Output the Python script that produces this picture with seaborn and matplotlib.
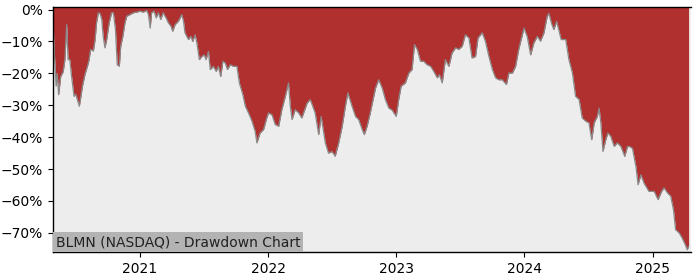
import matplotlib
matplotlib.use("Agg")
import matplotlib.pyplot as plt
import matplotlib.dates as mdates
from matplotlib.ticker import FuncFormatter
import pandas as pd
import seaborn as sns

dates = [
    "2020-04-28", "2020-05-01", "2020-05-04", "2020-05-07", "2020-05-10", "2020-05-14",
    "2020-05-20", "2020-05-27", "2020-06-01", "2020-06-06", "2020-06-10", "2020-06-15",
    "2020-06-20", "2020-06-27", "2020-07-02", "2020-07-12", "2020-07-16", "2020-07-21",
    "2020-07-28", "2020-08-04", "2020-08-09", "2020-08-13", "2020-08-21", "2020-08-26",
    "2020-08-30", "2020-09-04", "2020-09-09", "2020-09-14", "2020-09-18", "2020-09-23",
    "2020-09-28", "2020-10-05", "2020-10-12", "2020-10-17", "2020-10-23", "2020-10-28",
    "2020-11-03", "2020-11-07", "2020-11-13", "2020-11-19", "2020-11-24", "2020-12-03",
    "2020-12-13", "2020-12-23", "2021-01-01", "2021-01-10", "2021-01-20", "2021-01-25",
    "2021-01-30", "2021-02-03", "2021-02-10", "2021-02-16", "2021-02-22", "2021-03-01",
    "2021-03-08", "2021-03-16", "2021-03-23", "2021-03-30", "2021-04-04", "2021-04-11",
    "2021-04-20", "2021-04-30", "2021-05-05", "2021-05-09", "2021-05-19", "2021-05-26",
    "2021-05-31", "2021-06-07", "2021-06-12", "2021-06-19", "2021-06-26", "2021-07-03",
    "2021-07-08", "2021-07-15", "2021-07-20", "2021-07-29", "2021-08-06", "2021-08-12",
    "2021-08-19", "2021-08-25", "2021-09-01", "2021-09-07", "2021-09-15", "2021-09-24",
    "2021-10-04", "2021-10-11", "2021-10-21", "2021-10-28", "2021-11-06", "2021-11-16",
    "2021-11-25", "2021-11-30", "2021-12-09", "2021-12-19", "2021-12-28", "2022-01-02",
    "2022-01-12", "2022-01-21", "2022-01-31", "2022-02-09", "2022-02-19", "2022-02-28",
    "2022-03-05", "2022-03-10", "2022-03-19", "2022-03-29", "2022-04-07", "2022-04-22",
    "2022-05-01", "2022-05-15", "2022-05-25", "2022-06-01", "2022-06-13", "2022-06-22",
    "2022-07-02", "2022-07-11", "2022-07-21", "2022-07-31", "2022-08-09", "2022-08-16",
    "2022-08-28", "2022-09-07", "2022-09-16", "2022-09-26", "2022-10-02", "2022-10-10",
    "2022-10-19", "2022-10-29", "2022-11-03", "2022-11-12", "2022-11-22", "2022-12-01",
    "2022-12-11", "2022-12-20", "2023-01-01", "2023-01-08", "2023-01-15", "2023-01-27",
    "2023-02-06", "2023-02-15", "2023-02-22", "2023-03-02", "2023-03-11", "2023-03-20",
    "2023-03-30", "2023-04-09", "2023-04-18", "2023-04-28", "2023-05-04", "2023-05-12",
    "2023-05-21", "2023-05-31", "2023-06-09", "2023-06-19", "2023-06-28", "2023-07-08",
    "2023-07-17", "2023-07-27", "2023-08-05", "2023-08-15", "2023-08-22", "2023-09-03",
    "2023-09-12", "2023-09-22", "2023-10-02", "2023-10-11", "2023-10-20", "2023-10-30",
    "2023-11-11", "2023-11-18", "2023-11-28", "2023-12-07", "2023-12-16", "2023-12-31",
    "2024-01-09", "2024-01-19", "2024-01-28", "2024-02-07", "2024-02-16", "2024-02-26",
    "2024-03-06", "2024-03-11", "2024-03-18", "2024-03-25", "2024-04-02", "2024-04-09",
    "2024-04-15", "2024-04-28", "2024-05-07", "2024-05-17", "2024-05-26", "2024-06-05",
    "2024-06-14", "2024-06-24", "2024-07-03", "2024-07-11", "2024-07-18", "2024-07-27",
    "2024-08-01", "2024-08-06", "2024-08-12", "2024-08-20", "2024-08-26", "2024-09-03",
    "2024-09-13", "2024-09-22", "2024-10-02", "2024-10-13", "2024-10-21", "2024-10-28",
    "2024-11-04", "2024-11-14", "2024-11-20", "2024-11-28", "2024-12-07", "2024-12-21",
    "2025-01-05", "2025-01-16", "2025-01-26", "2025-02-02", "2025-02-12", "2025-02-21",
    "2025-03-01", "2025-03-07", "2025-03-17", "2025-03-26", "2025-04-04", "2025-04-09",
    "2025-04-13",
]

drawdown_pct = [
    -3, -12, -18, -24, -20, -26.7,
    -21, -19.5, -15.7, -4.7, -15.7, -15.7,
    -21, -27.2, -26.6, -30.3, -27.6, -24,
    -20.4, -17.8, -15.7, -12.5, -13, -9.4,
    -4.2, -1, -1.2, -3.1, -8.4, -12,
    -9.4, -4.2, -1, -1, -6.3, -17.3,
    -17.8, -11.5, -8.4, -4.2, -2.1, -1.6,
    -1, -0.8, -0.5, -0.8, -0.3, -1.6,
    -5.8, -1, -0.5, -2.6, -1, -3.1,
    -1, -2.6, -4.2, -5.2, -6.8, -4.7,
    -3.7, -1.6, -3.7, -7.3, -9.4, -8.4,
    -10, -7.9, -10.5, -15.7, -14.7, -14.2,
    -15.7, -13.1, -18.8, -17.8, -19.4, -17.8,
    -21, -16.2, -16.8, -18.8, -17.3, -17.8,
    -17.8, -23, -26.7, -30.3, -32.4, -35,
    -38.2, -41.8, -38.7, -37.6, -34, -32.4,
    -33, -36, -36.6, -31.4, -27.2, -23,
    -30, -34.5, -31.4, -32.4, -34, -29.3,
    -28.2, -32.4, -39.2, -33.5, -41.8, -45,
    -44.5, -46, -41.8, -36.6, -30.4, -26.1,
    -30.3, -33.5, -34.5, -37.6, -39.2, -36.6,
    -32.4, -27.2, -24.6, -22, -24.6, -28.2,
    -30.9, -31.5, -33.5, -28.2, -24, -23,
    -19.9, -18.8, -11, -12.5, -16.2, -16.2,
    -17.3, -17.8, -19.4, -21.4, -20.4, -23,
    -15.7, -17.8, -13.6, -12, -12.5, -11.5,
    -7.9, -8.9, -15.2, -14.7, -8.9, -7.3,
    -9.9, -14.7, -18.8, -21.4, -22, -22,
    -23.5, -19.9, -19.9, -17.8, -12.5, -5.8,
    -8.4, -14.2, -10.5, -8.4, -9.9, -7.3,
    -2.1, -1.2, -4.2, -6.3, -3.7, -6.8,
    -9.4, -9.4, -15.7, -19.9, -27.2, -28.2,
    -34, -35, -35.5, -40.8, -35.5, -33.5,
    -30.9, -35.5, -44.5, -40.8, -38.7, -39.7,
    -42.9, -41.8, -42.9, -46, -42.9, -43,
    -43.5, -49.2, -54.9, -51.8, -54.4, -57,
    -57, -59.6, -57, -55.9, -57.5, -58.5,
    -62.8, -69, -70, -71.7, -73.8, -75.3,
    -74.3,
]

y_ticks = [0, -10, -20, -30, -40, -50, -60, -70]
title_text = "BLMN (NASDAQ) - Drawdown Chart"

df = pd.DataFrame({"date": pd.to_datetime(dates), "drawdown": drawdown_pct})

fig = plt.figure(figsize=(7, 2.8), dpi=100)
ax = fig.add_axes([0.0757, 0.1, 0.911, 0.875])

red = "#B02F2F"
y_bottom = -76.0
y_top = 0.8
ax.set_facecolor("#EDEDED")
ax.fill_between(df["date"], df["drawdown"], y_top, color=red, linewidth=0, zorder=1)
sns.lineplot(data=df, x="date", y="drawdown", ax=ax, color="#8A8A8A", linewidth=0.9, zorder=2)

ax.set_xlim(df["date"].min(), df["date"].max() + pd.Timedelta(days=6))
ax.set_ylim(y_bottom, y_top)
ax.set_yticks(y_ticks)
ax.yaxis.set_major_formatter(FuncFormatter(lambda v, p: f"{int(round(v))}%".replace("-", "\u2212")))
ax.xaxis.set_major_locator(mdates.YearLocator())
ax.xaxis.set_major_formatter(mdates.DateFormatter("%Y"))
ax.set_xlabel("")
ax.set_ylabel("")
for s in ax.spines.values():
    s.set_color("black")
    s.set_linewidth(1.0)
ax.spines["right"].set_visible(False)
ax.tick_params(labelsize=10, colors="black")

ax.text(0.004, 0.012, title_text, transform=ax.transAxes, fontsize=10, ha="left", va="bottom",
        color="#222222", zorder=5,
        bbox=dict(facecolor="#B3B3B3", edgecolor="none", pad=2.0))

fig.savefig("out.png", dpi=100)
